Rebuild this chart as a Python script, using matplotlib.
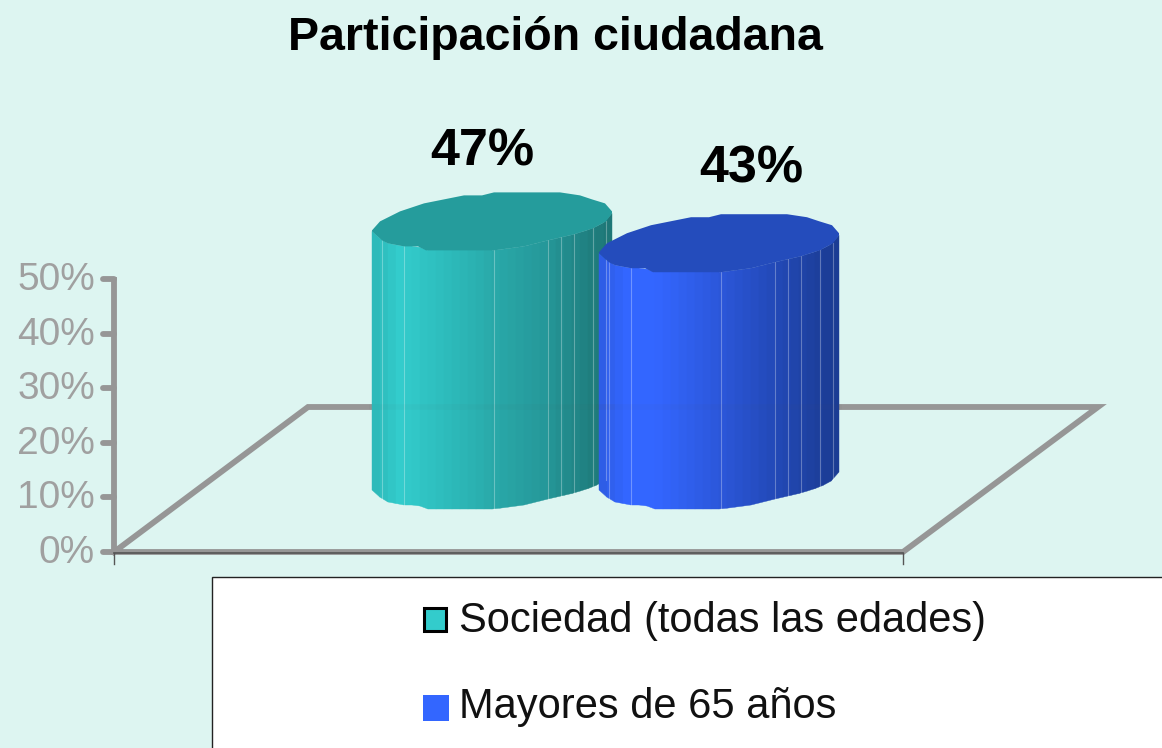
import matplotlib
matplotlib.use("Agg")
import matplotlib.pyplot as plt
import matplotlib.colors as mcolors
import numpy as np
from matplotlib.patches import Polygon, Rectangle

W, H = 1162, 748

series = ["Sociedad (todas las edades)", "Mayores de 65 años"]
values = [47, 43]
value_labels = ["47%", "43%"]
ticks = [0, 10, 20, 30, 40, 50]
tick_labels = ["0%", "10%", "20%", "30%", "40%", "50%"]

BG = "#DDF5F1"
GREY = "#969696"
BASE_Y = 552
PX_PER_PCT = (552 - 279) / 50
TOP_OFFSET = 74  # perspective shift of the cylinder top
BOTTOM_Y = 480
centers = [492, 719]
label_pos = [(482, 152), (751, 169)]

# colour stops across the cylinder, left to right
ramps = [[(0, "#2DBABA"), (0.1, "#33CCCC"), (0.3, "#2DBBBB"), (0.5, "#29A8A8"), (0.7, "#25989A"), (0.9, "#1F7E7E"),
          (1, "#1E7474")],
         [(0, "#2E5DE6"), (0.1, "#3366FF"), (0.22, "#3366FF"), (0.5, "#2B56D8"), (0.7, "#234ABA"), (0.9, "#1D3F9C"),
          (1, "#1A3A90")]]
top_colors = ["#259C9C", "#244CBC"]

# faceted outline of the cylinder end, offsets from its centre
front_dx = [-120, -110, -104, -88, -74, -66, 2, 32, 56, 69, 82, 101, 114, 120]
front_dy = [10, 19, 22, 25, 25, 29, 29, 25, 19, 16, 13, 7, 0, -8]
back_dx = [120, 113, 100, 88, 68, 2, -10, -28, -68, -92, -112, -120]
back_dy = [-10, -18, -22, -26, -29, -29, -26, -26, -18, -10, 0, 9]
facet_lines = [-110, -88, 2, 56, 69, 82, 101, 114]


def ypos(v):
    return BASE_Y - v * PX_PER_PCT


def draw_cylinder(ax, cx, value, ramp, top_color):
    y_top = ypos(value) - TOP_OFFSET
    cm = mcolors.LinearSegmentedColormap.from_list("c", ramp)
    edges = np.linspace(-120, 120, 31)
    for a, b in zip(edges[:-1], edges[1:]):
        xs = np.array([a, b])
        low = BOTTOM_Y + np.interp(xs, front_dx, front_dy)
        up = y_top + np.interp(xs, front_dx, front_dy)
        c = cm((a + 120) / 240)
        pts = [(cx + a, up[0]), (cx + b, up[1]), (cx + b, low[1]), (cx + a, low[0])]
        ax.add_patch(Polygon(pts, closed=True, facecolor=c, edgecolor=c, linewidth=0.3, zorder=3))
    for dx in facet_lines:
        d = np.interp(dx, front_dx, front_dy)
        ax.plot([cx + dx, cx + dx], [y_top + d, BOTTOM_Y + d], color="white", alpha=0.3, linewidth=0.8, zorder=3.5)
    ax.plot([cx - 120, cx + 120], [407, 407], color="#555555", alpha=0.04, linewidth=4, zorder=3.6)
    outline = [(cx + x, y_top + y) for x, y in zip(front_dx + back_dx, front_dy + back_dy)]
    ax.add_patch(Polygon(outline, closed=True, facecolor=top_color, edgecolor="none", zorder=4))


plt.rcParams["font.family"] = ["Liberation Sans", "DejaVu Sans"]
fig = plt.figure(figsize=(W / 100, H / 100), dpi=100, facecolor=BG)
ax = fig.add_axes([0, 0, 1, 1])
ax.set_xlim(0, W)
ax.set_ylim(H, 0)
ax.axis("off")

# wall and floor
ax.plot([114, 114], [ypos(50) - 2, ypos(0)], color=GREY, linewidth=4.2, zorder=1, solid_capstyle="butt")
ax.plot([114, 308, 1098, 903, 114], [552, 407, 407, 552, 552], color=GREY, linewidth=4.2, zorder=1,
        solid_joinstyle="miter")
ax.plot([114, 903], [553, 553], color="#555555", linewidth=1.2, zorder=2)
for x in [114, 903]:
    ax.plot([x, x], [553, 564], color="#555555", linewidth=1, zorder=2)

for v, lab in zip(ticks, tick_labels):
    ax.plot([103, 114], [ypos(v), ypos(v)], color=GREY, linewidth=4.2, zorder=1, solid_capstyle="round")
    ax.text(95, ypos(v) + 1, lab, ha="right", va="center", fontsize=28, color="#A0A0A0")

for cx, v, ramp, top_color, lab, pos in zip(centers, values, ramps, top_colors, value_labels, label_pos):
    draw_cylinder(ax, cx, v, ramp, top_color)
    ax.text(pos[0], pos[1], lab, ha="center", va="center", fontsize=37.5, fontweight="bold", color="black", zorder=6)

ax.text(555, 38, "Participación ciudadana", ha="center", va="center", fontsize=33.5, fontweight="bold",
        color="black")

# legend
ax.add_patch(Rectangle((212, 577), W, H, facecolor="white", edgecolor="#222222", linewidth=1, zorder=5))
ax.add_patch(Rectangle((423.5, 608), 22, 23, facecolor="#33CCCC", edgecolor="black", linewidth=2.2, zorder=6))
ax.add_patch(Rectangle((423, 695), 26, 26, facecolor="#3366FF", edgecolor="none", zorder=6))
ax.text(459, 621, series[0], ha="left", va="center", fontsize=30, color="#111111", zorder=6)
ax.text(459, 707, series[1], ha="left", va="center", fontsize=30, color="#111111", zorder=6)

fig.savefig("out.png", dpi=100, facecolor=BG)
